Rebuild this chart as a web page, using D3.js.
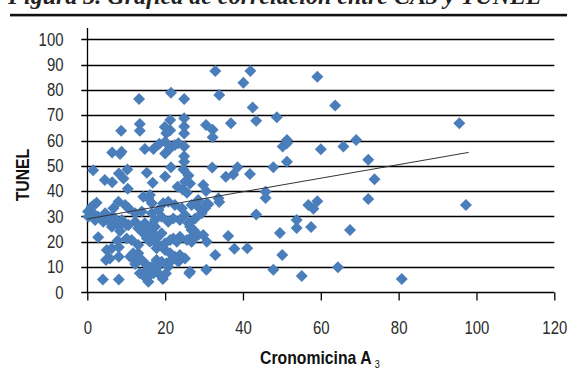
<!DOCTYPE html>
<html>
<head>
<meta charset="utf-8">
<script src="https://cdn.jsdelivr.net/npm/d3@7"></script>
<style>
  html, body { margin: 0; padding: 0; background: #fff; }
  svg { display: block; }
  .num { font-family: "Liberation Sans", Arial, sans-serif; font-size: 18px; fill: #2a2a2a; }
  .ttl { font-family: "Liberation Sans", Arial, sans-serif; font-weight: bold; fill: #111; }
</style>
</head>
<body>
<svg id="chart" width="567" height="370"></svg>
<script>
// Cronomicina A3 (x) vs TUNEL (y)
const puntos = [
  [32.9,87.5],[41.9,87.5],[40.1,82.8],[59.1,85.2],[21.5,78.9],[24.9,76.4],[13.3,76.4],[33.9,78],
  [42.5,73],[43.4,67.8],[48.7,69.2],[36.9,66.8],[30.5,66.1],[32.2,64.2],[32.2,61.3],[21.3,68.1],
  [24.9,68.8],[24.9,65.5],[24.9,62.8],[19.9,65.3],[21.3,64.1],[20.3,62.9],[13.5,66.5],[13.5,63.9],
  [8.7,63.9],[51.3,60.2],[50.2,57.6],[51.3,58.9],[60,56.5],[51.3,51.6],[6.4,55.3],[8.4,54.7],
  [8.8,55.6],[14.8,56.6],[17,56.6],[18.5,58.7],[20,59.5],[21.3,56.9],[20,54.9],[22.5,58.2],
  [23.4,58.9],[24.9,57.6],[24.9,53.8],[24.9,51.6],
  [63.7,73.8],[95.6,66.8],[65.8,57.6],[69.1,60.2],[72.2,52.4],[73.8,44.7],[72.2,36.9],[97.3,34.5],
  [67.5,24.6],[64.4,9.9],[80.8,5.3],
  [1.5,48.2],[4.5,44.4],[6.4,43.5],[8.1,47],[9.3,45],[10.3,48.5],[10.4,40.9],[15.3,47.3],
  [16.8,43.3],[20,45.8],[21.5,49.4],[24.7,48.5],[26,46.2],[25.1,43.7],[26.4,43],[23.2,41.7],
  [24.5,40.6],[25.6,39.3],[29.8,42.4],[30.5,40],[16.1,38.5],[32.1,49.3],[35.6,45.7],[37.5,46.6],
  [38.6,49.4],[41.8,46.8],[47.8,49.4],[45.8,39.7],[45.8,37.3],[33.7,37.2],
  [43.4,30.8],[56.8,34.5],[58.1,33],[59.1,36],[53.8,28.6],[53.8,25.4],[57.5,25.8],[49.5,23.4],
  [31.1,34.8],[33.9,35.7],[30.7,35.2],[28.5,33.8],[26.2,27.3],[27.3,24.6],[29.8,22.6],[30.7,20],
  [36.2,22.3],[37.8,17.2],[41.1,17.4],[32.9,14.7],[50.1,14.7],[30.6,8.9],[47.8,8.9],[55.1,6.4],
  [26.2,7.5],
  [4,5.1],[8.1,5.1],[2.8,21.8],[5,16.7],[4.8,12.8],[6.3,17.4],[8.1,17.8],[8.1,14.1],[5.8,13.4],
  [7.8,20.4],[8.4,24.2],[10.1,21.3],[10.1,26.6],[8.8,27.3],[11.8,15.4],[12.3,11.2],[11,14.1],
  [12,13.2],[13.1,15.4],
  [15.3,8.8],[15.7,6.2],[17,7.5],[18.7,6.8],[19.4,5.3],[13.5,7.5],[14.8,6],[16.1,8.1],[15.7,4.2],
  [20.2,7.4],[14,12.8],[15.3,10.8],[16.6,10.1],[17.8,9.5],[19.1,12.1],[20.8,10.1],[22.1,13.4],
  [23.4,12.1],[17.8,12.8],[20.4,11.5],[21.7,12.8],
  [17.8,17.4],[20,16.7],[21.3,15.4],[22.5,14.1],[23.8,14.7],[25.1,13.4],[20,19.4],[21.3,20.7],
  [23,20],[23.8,22],[25.6,20.7],[26.4,21.3],[26.8,20],[27.7,22],[22.1,21.3],
  [15.3,21.3],[16.6,20.7],[15.7,24],[14.4,26.6],[16.6,25.3],[17.4,22.6],[17.8,21.3],[19.1,23.3],
  [16.1,20],[17.4,25.9],[18.3,18.7],[11.4,20.7],[13.1,18.7],[14.4,23.3],[26.4,25.9],[26.8,24.6],
  [28.5,22.6],[26.4,8.1],
  [0.2,31.9],[1.1,33.8],[0.3,29.9],[2,28.6],[1.7,34.5],[2.4,35.4],[5,28.9],[6.3,29.9],[7.6,27.3],
  [2,30.6],[4.1,27.9],[5.4,28.6],[7.1,29.2],[6.3,25.9],[8.9,28.6],[10.6,26.6],[12.3,27.9],
  [13.1,25.3],[14.8,27.3],[16.6,26.6],[17.4,28.6],[19.1,29.9],[20.8,27.9],[22.1,29.2],[23.8,28.6],
  [25.1,30.6],[26,27.3],[27.7,29.2],[29.4,31.2],[30.3,33.2],[24.3,33.2],[22.5,34.5],[20.8,35.8],
  [19.5,35.2],[16.6,35.2],[15.7,37.2],[14.4,37.8],[10.6,33.2],[9.7,34.5],[8,35.8],[6.7,33.2],
  [4.6,31.2],[2.8,29.9],[14,31.9],[12.3,31.2],[16.6,31.2],[18.3,32.5],[26.8,34.5],[28.5,36.5]
];
// línea de tendencia (extremos)
const trendX = [0, 98];
const trendY = [29, 55.3];
const xTicks = [0, 20, 40, 60, 80, 100, 120];
const yTicks = [0, 10, 20, 30, 40, 50, 60, 70, 80, 90, 100];

const sx = 0.83; // fuente condensada: se comprime a lo ancho
const svg = d3.select("#chart");
const x = d3.scaleLinear().domain([0, 120]).range([87.3, 554.3]);
const y = d3.scaleLinear().domain([0, 100]).range([292.3, 39.3]);

// cabecera recortada de la figura
svg.append("text")
  .attr("x", 8).attr("y", 4)
  .attr("font-family", "Liberation Serif, serif")
  .attr("font-style", "italic").attr("font-weight", "bold")
  .attr("font-size", 24).attr("fill", "#222")
  .text("Figura 3. Gráfica de correlación entre CA3 y TUNEL");
svg.append("rect").attr("x", 10).attr("y", 13.8).attr("width", 557).attr("height", 2.6).attr("fill", "#111");

// líneas de cuadrícula (con la marca exterior)
svg.append("g").selectAll("line")
  .data(yTicks)
  .enter().append("line")
  .attr("x1", x(0) - 6).attr("x2", x(120))
  .attr("y1", d => Math.round(y(d)) + 0.5).attr("y2", d => Math.round(y(d)) + 0.5)
  .attr("stroke", "#000").attr("stroke-width", 1.3);

// eje Y
const yAxis = d3.axisLeft(y).tickValues(yTicks).tickSize(0).tickPadding(24);
const gy = svg.append("g").attr("transform", `translate(${Math.round(x(0)) + 0.5},0)`).call(yAxis);
gy.select(".domain").remove();
gy.selectAll("text").attr("class", "num").attr("font-family", null).attr("font-size", null)
  .attr("x", -24 / sx).attr("transform", `scale(${sx},1)`);
svg.append("line")
  .attr("x1", Math.round(x(0)) + 0.5).attr("x2", Math.round(x(0)) + 0.5)
  .attr("y1", 28).attr("y2", y(0))
  .attr("stroke", "#000").attr("stroke-width", 1.3);

// eje X
const xAxis = d3.axisBottom(x).tickValues(xTicks).tickSize(8).tickPadding(21);
const gx = svg.append("g").attr("transform", `translate(0,${Math.round(y(0)) + 0.5})`).call(xAxis);
gx.select(".domain").remove();
gx.selectAll("line").attr("stroke", "#000").attr("stroke-width", 1.3);
gx.selectAll("text").attr("class", "num").attr("font-family", null).attr("font-size", null)
  .attr("transform", `scale(${sx},1)`);

// puntos (rombos)
const diamond = d3.symbol().type(d3.symbolSquare).size(72);
svg.append("g").selectAll("path")
  .data(puntos)
  .enter().append("path")
  .attr("d", diamond)
  .attr("transform", d => `translate(${x(d[0])},${y(d[1])}) rotate(45)`)
  .attr("fill", "#4a7ebb");

// tendencia
svg.append("line")
  .attr("x1", x(trendX[0])).attr("y1", y(trendY[0]))
  .attr("x2", x(trendX[1])).attr("y2", y(trendY[1]))
  .attr("stroke", "#333").attr("stroke-width", 1);

// títulos de ejes
svg.append("text").attr("class", "ttl")
  .attr("transform", `translate(29,175) rotate(-90) scale(${sx},1)`)
  .attr("text-anchor", "middle").attr("font-size", 19)
  .text("TUNEL");
const xt = svg.append("text").attr("class", "ttl")
  .attr("transform", `translate(320,364) scale(${sx},1)`)
  .attr("text-anchor", "middle").attr("font-size", 19);
xt.append("tspan").text("Cronomicina A");
xt.append("tspan").attr("dx", 4).attr("dy", 4).attr("font-size", 11).attr("font-weight", "normal").text("3");
</script>
</body>
</html>
